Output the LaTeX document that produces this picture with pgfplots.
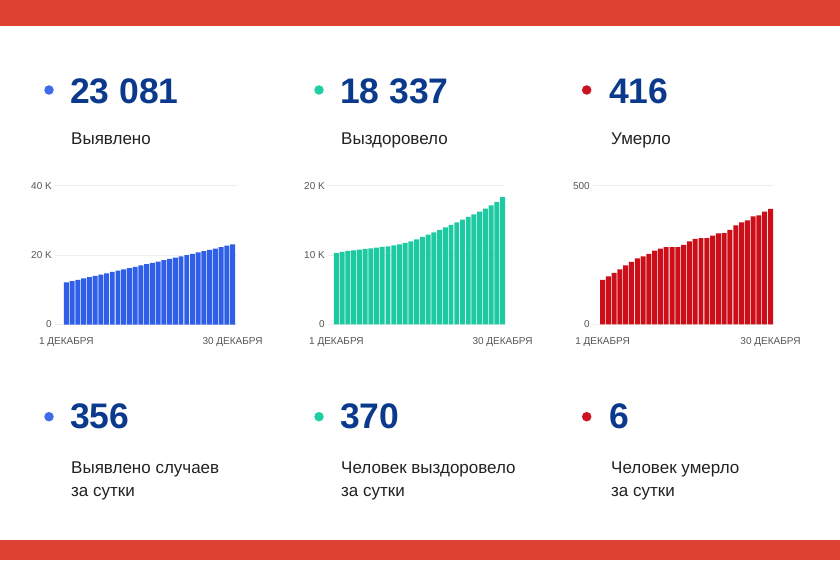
\documentclass[border=0pt]{standalone}
\usepackage{fontspec}
\setmainfont{Liberation Sans}
\usepackage{pgfplots}
\pgfplotsset{compat=1.18}

\definecolor{hdr}{HTML}{DD4132}
\definecolor{navy}{HTML}{0B3A8C}
\definecolor{txt}{HTML}{222222}
\definecolor{tick}{HTML}{555555}
\definecolor{cblue}{HTML}{2F5EE8}
\definecolor{cgreen}{HTML}{1CC9A0}
\definecolor{cred}{HTML}{CC0E18}
\definecolor{dblue}{HTML}{3F6AE8}
\definecolor{dgreen}{HTML}{1ECFA4}
\definecolor{dred}{HTML}{CC1122}

\pgfplotsset{
  mini/.style={
    scale only axis, height=138.7pt, ymin=0,
    enlargelimits=false, clip=false, scaled y ticks=false,
    axis line style={draw=none}, major tick length=0pt,
    ymajorgrids, grid style={gray!14, line width=0.8pt},
    xtick={1,30}, xticklabels={1 ДЕКАБРЯ, 30 ДЕКАБРЯ},
    tick label style={font=\fontsize{10}{12}\selectfont, text=tick},
    yticklabel style={anchor=east, inner sep=0pt, xshift=-3pt},
    xticklabel style={anchor=north, inner sep=0pt, yshift=-13pt},
    ybar, bar width=0.86,
  },
}

\newcommand{\bignum}[1]{{\fontsize{35.5}{40}\selectfont\bfseries\color{navy}#1}}
\newcommand{\lbl}[1]{{\fontsize{17}{20}\selectfont\color{txt}#1}}

\begin{document}
\begin{tikzpicture}[x=1pt, y=1pt]
  \fill[white] (0,0) rectangle (840,560);
  \fill[hdr] (0,534) rectangle (840,560);
  \fill[hdr] (0,0) rectangle (840,20);

  % top row
  \node[circle, fill=dblue,  inner sep=0pt, minimum size=9.5pt] at (49,470) {};
  \node[circle, fill=dgreen, inner sep=0pt, minimum size=9.5pt] at (319,470) {};
  \node[circle, fill=dred,   inner sep=0pt, minimum size=9.5pt] at (586.7,470) {};
  \node[anchor=base west, inner sep=0pt] at (70,456.7)  {\bignum{23 081}};
  \node[anchor=base west, inner sep=0pt] at (340,456.7) {\bignum{18 337}};
  \node[anchor=base west, inner sep=0pt] at (609,456.7) {\bignum{416}};
  \node[anchor=base west, inner sep=0pt] at (71,415.7)  {\lbl{Выявлено}};
  \node[anchor=base west, inner sep=0pt] at (341,415.7) {\lbl{Выздоровело}};
  \node[anchor=base west, inner sep=0pt] at (611,415.7) {\lbl{Умерло}};

  % bottom row
  \node[circle, fill=dblue,  inner sep=0pt, minimum size=9.5pt] at (49,143.3) {};
  \node[circle, fill=dgreen, inner sep=0pt, minimum size=9.5pt] at (319,143.3) {};
  \node[circle, fill=dred,   inner sep=0pt, minimum size=9.5pt] at (586.7,143.3) {};
  \node[anchor=base west, inner sep=0pt] at (70,131.7)  {\bignum{356}};
  \node[anchor=base west, inner sep=0pt] at (340,131.7) {\bignum{370}};
  \node[anchor=base west, inner sep=0pt] at (609,131.7) {\bignum{6}};
  \node[anchor=base west, inner sep=0pt] at (71,86.7)  {\lbl{Выявлено случаев}};
  \node[anchor=base west, inner sep=0pt] at (71,63.3)  {\lbl{за сутки}};
  \node[anchor=base west, inner sep=0pt] at (341,86.7) {\lbl{Человек выздоровело}};
  \node[anchor=base west, inner sep=0pt] at (341,63.3) {\lbl{за сутки}};
  \node[anchor=base west, inner sep=0pt] at (611,86.7) {\lbl{Человек умерло}};
  \node[anchor=base west, inner sep=0pt] at (611,63.3) {\lbl{за сутки}};

  % detected, cumulative
  \begin{axis}[mini, at={(55pt,235.5pt)}, anchor=south west, width=182pt,
      xmin=-0.99, xmax=30.77, ymax=40000,
      ytick={0,20000,40000}, yticklabels={0,20 K,40 K}]
    \addplot[fill=cblue, draw=none] coordinates {
      (1,12150) (2,12530) (3,12900) (4,13280) (5,13650) (6,14030)
      (7,14400) (8,14780) (9,15150) (10,15530) (11,15900) (12,16280)
      (13,16650) (14,17030) (15,17400) (16,17780) (17,18150) (18,18530)
      (19,18900) (20,19280) (21,19650) (22,20030) (23,20400) (24,20780)
      (25,21150) (26,21530) (27,21900) (28,22280) (29,22725) (30,23081)
    };
  \end{axis}

  % recovered, cumulative
  \begin{axis}[mini, at={(328pt,235.7pt)}, anchor=south west, width=177pt,
      xmin=-0.47, xmax=30.42, ymax=20000,
      ytick={0,10000,20000}, yticklabels={0,10 K,20 K}]
    \addplot[fill=cgreen, draw=none] coordinates {
      (1,10289) (2,10433) (3,10577) (4,10674) (5,10770) (6,10866)
      (7,10962) (8,11058) (9,11154) (10,11250) (11,11394) (12,11539)
      (13,11731) (14,11971) (15,12260) (16,12597) (17,12933) (18,13270)
      (19,13606) (20,13991) (21,14327) (22,14712) (23,15097) (24,15481)
      (25,15866) (26,16250) (27,16683) (28,17165) (29,17645) (30,18337)
    };
  \end{axis}

  % deaths, cumulative
  \begin{axis}[mini, at={(593pt,235.7pt)}, anchor=south west, width=180pt,
      xmin=-0.64, xmax=30.43, ymax=500,
      ytick={0,500}, yticklabels={0,500}]
    \addplot[fill=cred, draw=none] coordinates {
      (1,160) (2,173) (3,185) (4,198) (5,212) (6,225)
      (7,238) (8,245) (9,254) (10,266) (11,273) (12,278)
      (13,278) (14,278) (15,286) (16,299) (17,308) (18,311)
      (19,311) (20,320) (21,328) (22,329) (23,340) (24,357)
      (25,367) (26,375) (27,389) (28,393) (29,406) (30,416)
    };
  \end{axis}
\end{tikzpicture}
\end{document}
